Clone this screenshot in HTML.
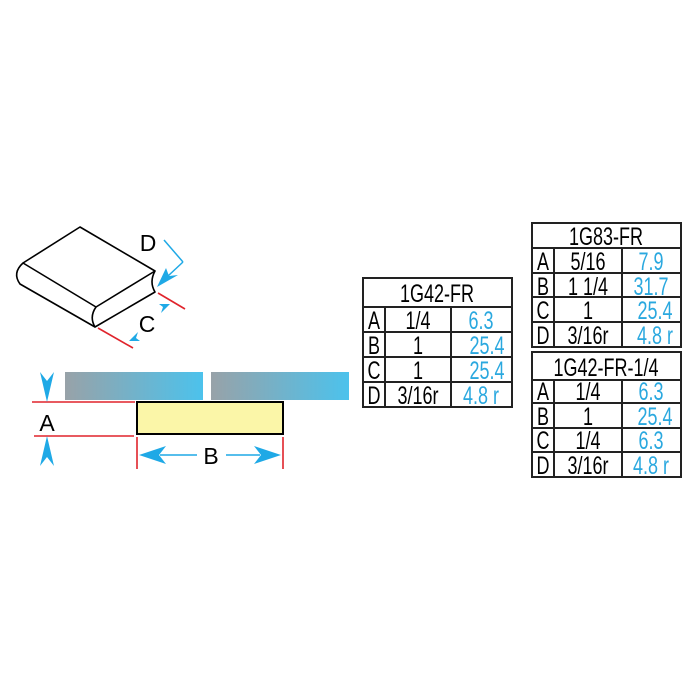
<!DOCTYPE html>
<html><head><meta charset="utf-8"><style>html,body{margin:0;padding:0;background:#fff}svg{display:block}text{font-family:"Liberation Sans",sans-serif}</style></head>
<body>
<svg width="700" height="700" viewBox="0 0 700 700" xmlns="http://www.w3.org/2000/svg">
<defs>
<linearGradient id="g" x1="0" x2="1" y1="0" y2="0"><stop offset="0" stop-color="#98a2a8"/><stop offset="1" stop-color="#4cc2ec"/></linearGradient>
</defs>
<g fill="none" stroke="#000" stroke-width="1.6" stroke-linejoin="round">
<path d="M23,263 L80,227 L155,271 L96,307 Z" fill="#fff"/>
<path d="M23,263 Q12,273 20,284 L95,327"/>
<path d="M96,307 Q89,317 95,327 L155,292 Q149,282 155,271"/>
</g>
<g stroke="#e0242c" stroke-width="1.6">
<line x1="98" y1="328" x2="133" y2="348"/>
<line x1="158" y1="293" x2="185" y2="309"/>
<line x1="32" y1="402" x2="135" y2="402"/>
<line x1="34" y1="436" x2="134" y2="436"/>
<line x1="137" y1="437" x2="137" y2="469"/>
<line x1="283" y1="437" x2="283" y2="469"/>
</g>
<g fill="#1fa9e6" stroke="#1fa9e6">
<line x1="164" y1="240" x2="183" y2="262" stroke-width="1.5" fill="none"/>
<line x1="183" y1="262" x2="168" y2="276" stroke-width="1.5"/>
<path d="M157,287 L166,268 L169,276 L178,275 Z" stroke="none"/>
<path d="M129,341 L138,332 L136,338 L140,341 Z" stroke="none"/>
<path d="M170,304 L161,313 L163,307 L159,304 Z" stroke="none"/>
<path d="M47,402 L40,372 L47,381 L54,372 Z" stroke="none"/>
<path d="M47,436 L40,466 L47,457 L54,466 Z" stroke="none"/>
<path d="M139,455 L166,446 L159,455 L166,464 Z" stroke="none"/>
<path d="M281,455 L254,446 L261,455 L254,464 Z" stroke="none"/>
<line x1="160" y1="455" x2="197" y2="455" stroke-width="1.5"/>
<line x1="226" y1="455" x2="260" y2="455" stroke-width="1.5"/>
</g>
<text x="148" y="251" font-size="23" text-anchor="middle">D</text>
<text x="147" y="332" font-size="23" text-anchor="middle">C</text>
<text x="47" y="431" font-size="23" text-anchor="middle">A</text>
<text x="211" y="464" font-size="23" text-anchor="middle">B</text>
<rect x="65" y="372" width="138" height="28" fill="url(#g)"/>
<rect x="211" y="372" width="138" height="28" fill="url(#g)"/>
<rect x="137" y="402" width="146" height="32" fill="#fbf6a8" stroke="#000" stroke-width="2"/>

<g fill="none" stroke="#222" stroke-width="2">
<rect x="363" y="278" width="149" height="129"/>
<line x1="363" y1="307" x2="512" y2="307"/>
<line x1="363" y1="332" x2="512" y2="332"/>
<line x1="363" y1="357" x2="512" y2="357"/>
<line x1="363" y1="382" x2="512" y2="382"/>
<line x1="385" y1="307" x2="385" y2="407"/>
<line x1="451" y1="307" x2="451" y2="407"/>

<rect x="532" y="223" width="149" height="124"/>
<line x1="532" y1="248" x2="681" y2="248"/>
<line x1="532" y1="273" x2="681" y2="273"/>
<line x1="532" y1="297" x2="681" y2="297"/>
<line x1="532" y1="322" x2="681" y2="322"/>
<line x1="554" y1="248" x2="554" y2="347"/>
<line x1="622" y1="248" x2="622" y2="347"/>

<rect x="532" y="352" width="149" height="125"/>
<line x1="532" y1="380" x2="681" y2="380"/>
<line x1="532" y1="403" x2="681" y2="403"/>
<line x1="532" y1="428" x2="681" y2="428"/>
<line x1="532" y1="452" x2="681" y2="452"/>
<line x1="554" y1="380" x2="554" y2="477"/>
<line x1="622" y1="380" x2="622" y2="477"/>
</g>
<g font-size="25" text-anchor="middle">
<g transform="translate(437,302) scale(0.72,1)"><text>1G42-FR</text></g>
<g transform="translate(374,329) scale(0.72,1)"><text>A</text></g>
<g transform="translate(374,354) scale(0.72,1)"><text>B</text></g>
<g transform="translate(374,379) scale(0.72,1)"><text>C</text></g>
<g transform="translate(374,404) scale(0.72,1)"><text>D</text></g>
<g transform="translate(418,329) scale(0.72,1)"><text>1/4</text></g>
<g transform="translate(418,354) scale(0.72,1)"><text>1</text></g>
<g transform="translate(418,379) scale(0.72,1)"><text>1</text></g>
<g transform="translate(418,404) scale(0.72,1)"><text>3/16r</text></g>
<g fill="#2aa8df">
<g transform="translate(481,329) scale(0.72,1)"><text>6.3</text></g>
<g transform="translate(487,354) scale(0.72,1)"><text>25.4</text></g>
<g transform="translate(487,379) scale(0.72,1)"><text>25.4</text></g>
<g transform="translate(481,404) scale(0.72,1)"><text>4.8 r</text></g>
</g>

<g transform="translate(606,245) scale(0.72,1)"><text>1G83-FR</text></g>
<g transform="translate(543,270) scale(0.72,1)"><text>A</text></g>
<g transform="translate(543,295) scale(0.72,1)"><text>B</text></g>
<g transform="translate(543,319) scale(0.72,1)"><text>C</text></g>
<g transform="translate(543,344) scale(0.72,1)"><text>D</text></g>
<g transform="translate(588,270) scale(0.72,1)"><text>5/16</text></g>
<g transform="translate(588,295) scale(0.72,1)"><text>1 1/4</text></g>
<g transform="translate(588,319) scale(0.72,1)"><text>1</text></g>
<g transform="translate(588,344) scale(0.72,1)"><text>3/16r</text></g>
<g fill="#2aa8df">
<g transform="translate(651,270) scale(0.72,1)"><text>7.9</text></g>
<g transform="translate(651,295) scale(0.72,1)"><text>31.7</text></g>
<g transform="translate(655,319) scale(0.72,1)"><text>25.4</text></g>
<g transform="translate(655,344) scale(0.72,1)"><text>4.8 r</text></g>
</g>

<g transform="translate(606,376) scale(0.72,1)"><text>1G42-FR-1/4</text></g>
<g transform="translate(543,400) scale(0.72,1)"><text>A</text></g>
<g transform="translate(543,425) scale(0.72,1)"><text>B</text></g>
<g transform="translate(543,449) scale(0.72,1)"><text>C</text></g>
<g transform="translate(543,474) scale(0.72,1)"><text>D</text></g>
<g transform="translate(588,400) scale(0.72,1)"><text>1/4</text></g>
<g transform="translate(588,425) scale(0.72,1)"><text>1</text></g>
<g transform="translate(588,449) scale(0.72,1)"><text>1/4</text></g>
<g transform="translate(588,474) scale(0.72,1)"><text>3/16r</text></g>
<g fill="#2aa8df">
<g transform="translate(651,400) scale(0.72,1)"><text>6.3</text></g>
<g transform="translate(655,425) scale(0.72,1)"><text>25.4</text></g>
<g transform="translate(651,449) scale(0.72,1)"><text>6.3</text></g>
<g transform="translate(651,474) scale(0.72,1)"><text>4.8 r</text></g>
</g>
</g>
</svg>
</body></html>
